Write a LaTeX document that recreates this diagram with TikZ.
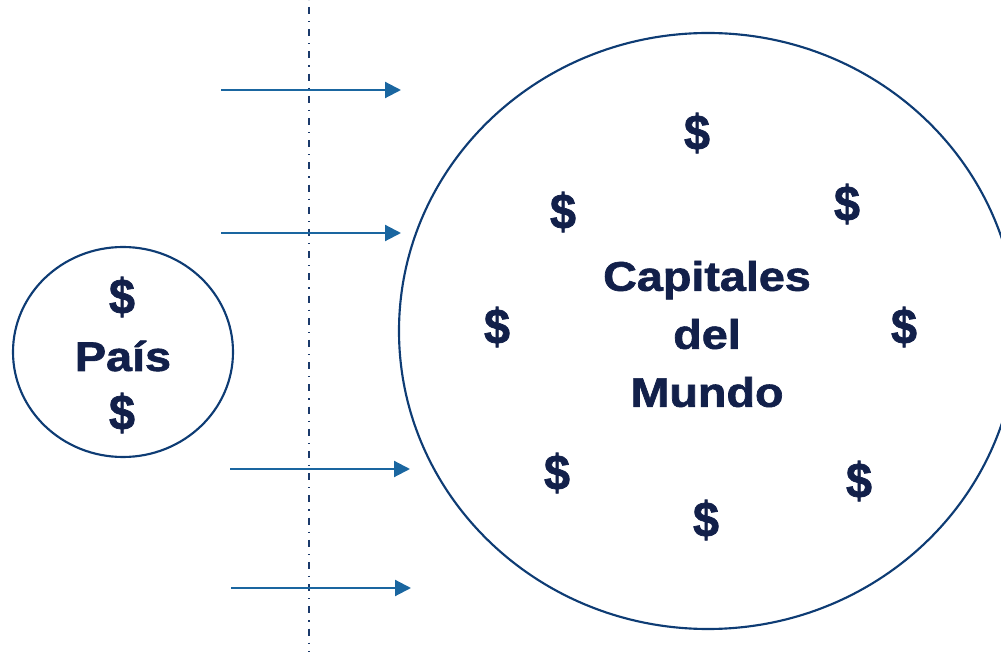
\documentclass[tikz,border=0pt]{standalone}
\usepackage{fontspec}
\setmainfont{Liberation Sans}[BoldFeatures={FakeBold=1.5}]
\usetikzlibrary{shapes.geometric,arrows.meta}
\definecolor{navytext}{HTML}{12204A}
\definecolor{ringcol}{HTML}{0E3C74}
\definecolor{arrowcol}{HTML}{1A66A0}
\definecolor{axiscol}{HTML}{1B3A6B}
\newcommand{\widetxt}[1]{\scalebox{1.13}[1]{#1}}
\newcommand{\dollarsign}{\scalebox{1.13}[1.2]{\$}}
\tikzset{
  ring/.style={ellipse, draw=ringcol, line width=1.6pt, inner sep=0pt},
  money/.style={text=navytext, font=\bfseries\fontsize{31pt}{31pt}\selectfont, inner sep=0pt},
  bigtext/.style={text=navytext, font=\bfseries\fontsize{31pt}{43.5pt}\selectfont, align=center, inner sep=0pt},
  flow/.style={draw=arrowcol, line width=1.6pt, -{Triangle[length=12pt,width=12pt]}},
  axis/.style={draw=axiscol, line width=1.6pt, dash pattern=on 5.25pt off 5.25pt on 0.9pt off 5.25pt, dash phase=-5.25pt}
}
\begin{document}
\begin{tikzpicture}[x=0.75pt,y=-0.75pt]
\useasboundingbox (0,0) rectangle (1001,652);
% vertical dash-dot line
\coordinate (axtop) at (309,0);
\coordinate (axbot) at (309,652);
\draw[axis] (axtop) -- (axbot);
% circles
\node[ring, minimum width=165pt, minimum height=157.5pt] (pais) at (123,352) {};
\node[ring, minimum width=463.5pt, minimum height=447pt] (mundo) at (708,331) {};
% texts in small circle
\node[money] (p1) at (122,297) {\dollarsign};
\node[money] (p2) at (122,413) {\dollarsign};
\node[money] (ptxt) at (123,356) {\widetxt{País}};
% texts in big circle
\node[bigtext] (mtxt) at (707,334) {\widetxt{Capitales}\\\widetxt{del}\\\widetxt{Mundo}};
\node[money] (m1) at (697,133) {\dollarsign};
\node[money] (m2) at (563,212) {\dollarsign};
\node[money] (m3) at (847,204) {\dollarsign};
\node[money] (m4) at (497,327) {\dollarsign};
\node[money] (m5) at (904,327) {\dollarsign};
\node[money] (m6) at (557,473) {\dollarsign};
\node[money] (m7) at (706,520) {\dollarsign};
\node[money] (m8) at (859,481) {\dollarsign};
% arrows
\coordinate (a1s) at (221,90);  \coordinate (a1e) at (401,90);
\coordinate (a2s) at (221,233); \coordinate (a2e) at (401,233);
\coordinate (a3s) at (230,469); \coordinate (a3e) at (410,469);
\coordinate (a4s) at (231,588); \coordinate (a4e) at (411,588);
\draw[flow] (a1s) -- (a1e);
\draw[flow] (a2s) -- (a2e);
\draw[flow] (a3s) -- (a3e);
\draw[flow] (a4s) -- (a4e);
\end{tikzpicture}
\end{document}
